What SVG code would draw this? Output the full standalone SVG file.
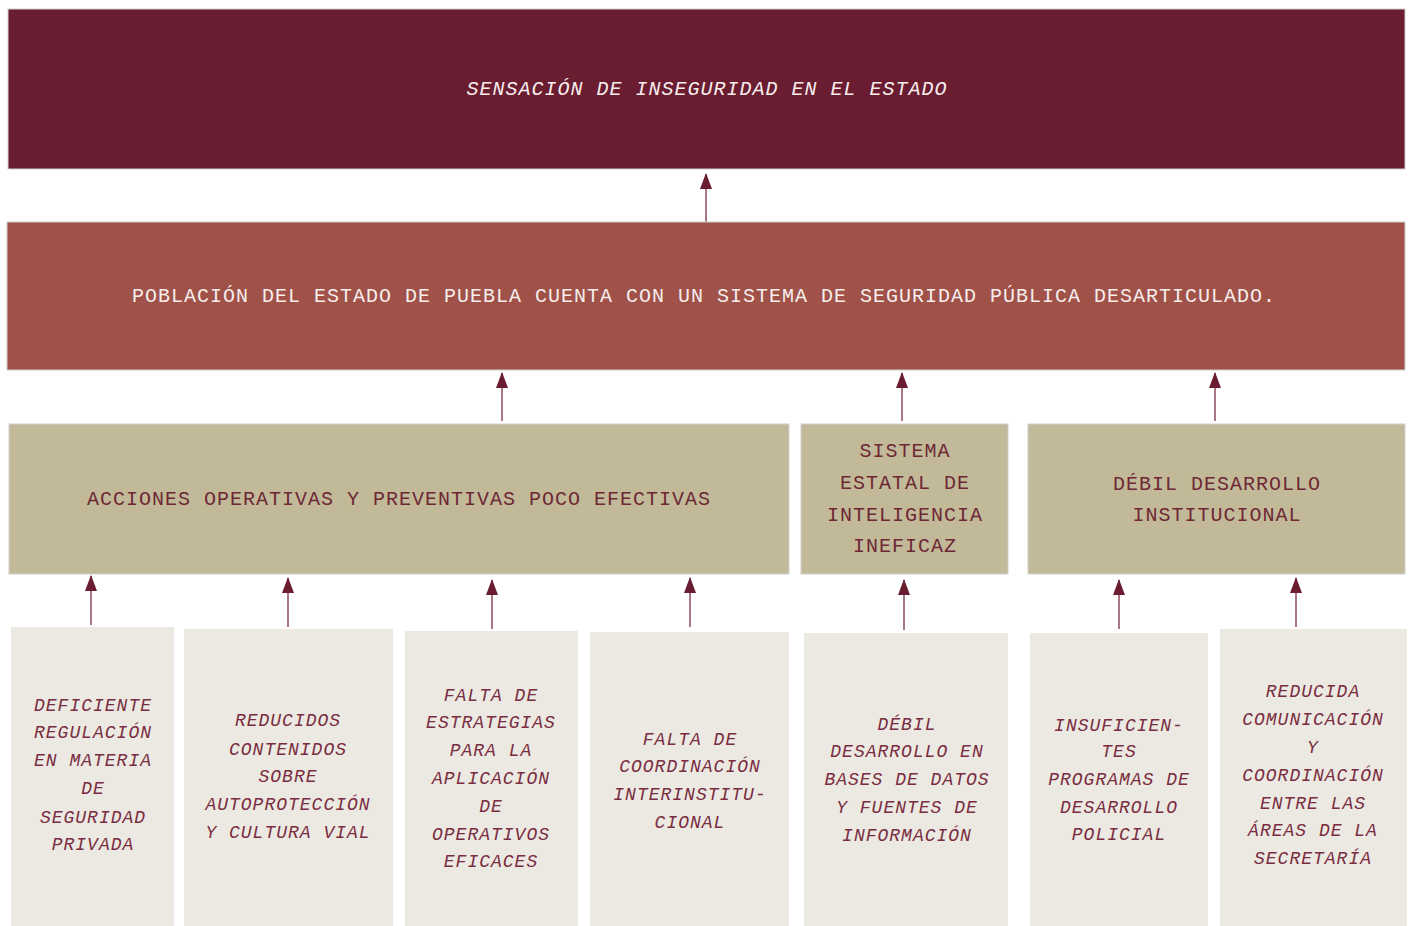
<svg xmlns="http://www.w3.org/2000/svg" width="1410" height="926" viewBox="0 0 1410 926">
<defs>
<style>
.bx{stroke:#cfcfcf;stroke-width:1}
.t1{fill:#6a1c31}
.t2{fill:#a05148}
.t3{fill:#c2b999}
.t4{fill:#ece9e3;stroke:none}
text{font-family:"Liberation Mono","Courier New",monospace;text-anchor:middle;dominant-baseline:central}
.w{fill:#f6eded;font-size:20px;letter-spacing:1px}
.wi{fill:#f6eded;font-size:20px;letter-spacing:1px;font-style:italic}
.m{fill:#6e2835;font-size:20px;letter-spacing:1px}
.mi{fill:#7a2d40;font-size:18px;letter-spacing:1px;font-style:italic}
.ln{stroke:#8c4a5a;stroke-width:1.5;fill:none}
</style>
<marker id="ah" viewBox="0 0 16 12" refX="15" refY="6" markerWidth="16" markerHeight="12" markerUnits="userSpaceOnUse" orient="auto">
<path d="M0,0 L16,6 L0,12 Z" fill="#6a1c31"/>
</marker>
</defs>
<rect width="1410" height="926" fill="#ffffff"/>

<g id="connectors">
<path class="ln" d="M706,222 V174" marker-end="url(#ah)"/>
<path class="ln" d="M502,421 V373" marker-end="url(#ah)"/>
<path class="ln" d="M902,421 V373" marker-end="url(#ah)"/>
<path class="ln" d="M1215,421 V373" marker-end="url(#ah)"/>
<path class="ln" d="M91,625 V576" marker-end="url(#ah)"/>
<path class="ln" d="M288,627 V578" marker-end="url(#ah)"/>
<path class="ln" d="M492,629 V580" marker-end="url(#ah)"/>
<path class="ln" d="M690,627 V578" marker-end="url(#ah)"/>
<path class="ln" d="M904,630 V580" marker-end="url(#ah)"/>
<path class="ln" d="M1119,629 V580" marker-end="url(#ah)"/>
<path class="ln" d="M1296,627 V578" marker-end="url(#ah)"/>
</g>

<g id="n-top">
<rect class="bx t1" x="8" y="9" width="1397" height="160"/>
<text class="wi" x="707" y="89">SENSACIÓN DE INSEGURIDAD EN EL ESTADO</text>
</g>

<g id="n-problem">
<rect class="bx t2" x="7" y="222" width="1398" height="148"/>
<text class="w" x="704" y="296">POBLACIÓN DEL ESTADO DE PUEBLA CUENTA CON UN SISTEMA DE SEGURIDAD PÚBLICA DESARTICULADO.</text>
</g>

<g id="n-acciones">
<rect class="bx t3" x="9" y="424" width="780" height="150"/>
<text class="m" x="399" y="499">ACCIONES OPERATIVAS Y PREVENTIVAS POCO EFECTIVAS</text>
</g>

<g id="n-sistema">
<rect class="bx t3" x="801" y="424" width="207" height="150"/>
<text class="m" x="905" y="451">SISTEMA</text>
<text class="m" x="905" y="483">ESTATAL DE</text>
<text class="m" x="905" y="515">INTELIGENCIA</text>
<text class="m" x="905" y="546">INEFICAZ</text>
</g>

<g id="n-debil">
<rect class="bx t3" x="1028" y="424" width="377" height="150"/>
<text class="m" x="1217" y="484">DÉBIL DESARROLLO</text>
<text class="m" x="1217" y="515">INSTITUCIONAL</text>
</g>

<g id="c1">
<rect class="t4" x="11" y="627" width="163" height="299"/>
<text class="mi" x="93" y="706">DEFICIENTE</text>
<text class="mi" x="93" y="733">REGULACIÓN</text>
<text class="mi" x="93" y="761">EN MATERIA</text>
<text class="mi" x="93" y="789">DE</text>
<text class="mi" x="93" y="818">SEGURIDAD</text>
<text class="mi" x="93" y="845">PRIVADA</text>
</g>

<g id="c2">
<rect class="t4" x="184" y="629" width="209" height="297"/>
<text class="mi" x="288" y="721">REDUCIDOS</text>
<text class="mi" x="288" y="750">CONTENIDOS</text>
<text class="mi" x="288" y="777">SOBRE</text>
<text class="mi" x="288" y="805">AUTOPROTECCIÓN</text>
<text class="mi" x="288" y="833">Y CULTURA VIAL</text>
</g>

<g id="c3">
<rect class="t4" x="405" y="631" width="173" height="295"/>
<text class="mi" x="491" y="696">FALTA DE</text>
<text class="mi" x="491" y="723">ESTRATEGIAS</text>
<text class="mi" x="491" y="751">PARA LA</text>
<text class="mi" x="491" y="779">APLICACIÓN</text>
<text class="mi" x="491" y="807">DE</text>
<text class="mi" x="491" y="835">OPERATIVOS</text>
<text class="mi" x="491" y="862">EFICACES</text>
</g>

<g id="c4">
<rect class="t4" x="590" y="632" width="199" height="294"/>
<text class="mi" x="690" y="740">FALTA DE</text>
<text class="mi" x="690" y="767">COORDINACIÓN</text>
<text class="mi" x="690" y="795">INTERINSTITU-</text>
<text class="mi" x="690" y="823">CIONAL</text>
</g>

<g id="c5">
<rect class="t4" x="804" y="633" width="204" height="293"/>
<text class="mi" x="907" y="725">DÉBIL</text>
<text class="mi" x="907" y="752">DESARROLLO EN</text>
<text class="mi" x="907" y="780">BASES DE DATOS</text>
<text class="mi" x="907" y="808">Y FUENTES DE</text>
<text class="mi" x="907" y="836">INFORMACIÓN</text>
</g>

<g id="c6">
<rect class="t4" x="1030" y="633" width="178" height="293"/>
<text class="mi" x="1119" y="726">INSUFICIEN-</text>
<text class="mi" x="1119" y="752">TES</text>
<text class="mi" x="1119" y="780">PROGRAMAS DE</text>
<text class="mi" x="1119" y="808">DESARROLLO</text>
<text class="mi" x="1119" y="835">POLICIAL</text>
</g>

<g id="c7">
<rect class="t4" x="1220" y="629" width="187" height="297"/>
<text class="mi" x="1313" y="692">REDUCIDA</text>
<text class="mi" x="1313" y="720">COMUNICACIÓN</text>
<text class="mi" x="1313" y="748">Y</text>
<text class="mi" x="1313" y="776">COORDINACIÓN</text>
<text class="mi" x="1313" y="804">ENTRE LAS</text>
<text class="mi" x="1313" y="831">ÁREAS DE LA</text>
<text class="mi" x="1313" y="859">SECRETARÍA</text>
</g>
</svg>
